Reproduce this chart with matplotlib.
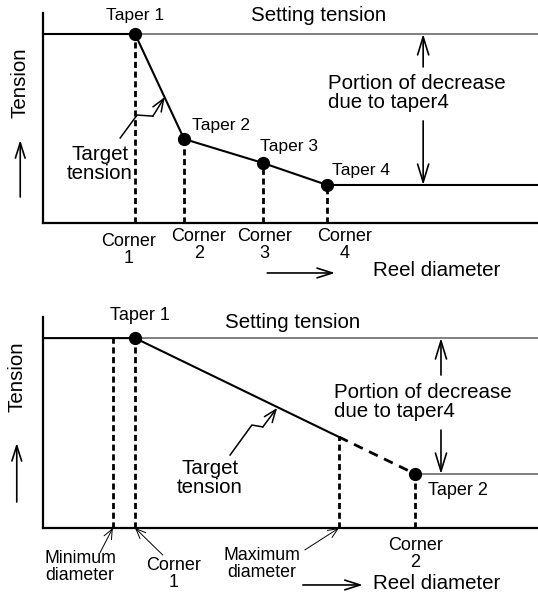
import numpy as np
import matplotlib
matplotlib.use("Agg")
import matplotlib.pyplot as plt

plt.rcParams['font.family'] = ['Liberation Sans', 'DejaVu Sans']

# taper settings, reel diameter and tension both in % of full scale
setting_tension = 90.0

# multi-point taper (top)
corner_diam = [18.6, 28.5, 44.4, 57.4]
taper_tension = [90.0, 40.0, 28.6, 18.1]
taper_names = ["Taper 1", "Taper 2", "Taper 3", "Taper 4"]
corner_names = ["Corner\n1", "Corner\n2", "Corner\n3", "Corner\n4"]

# two-point taper (bottom)
min_diam = 14.1
max_diam = 59.8
corner2_diam = [18.6, 75.2]
taper2_tension = [90.0, 25.6]

BIG = 14.8
SMALL = 12.8
GRAY = "#808080"
DASH = (0, (2.2, 1.3))


def setup(ax):
    ax.set_xlim(0, 100)
    ax.set_ylim(0, 100)
    for s in ["top", "right"]:
        ax.spines[s].set_visible(False)
    for s in ["left", "bottom"]:
        ax.spines[s].set_linewidth(1.6)
    ax.set_xticks([])
    ax.set_yticks([])
    ax.patch.set_alpha(0)


def arrow(ax, start, end, lw=1.2, hl=1.3, hw=0.4):
    ax.annotate("", xy=end, xytext=start, annotation_clip=False,
                arrowprops=dict(arrowstyle="->, head_length=%s, head_width=%s" % (hl, hw),
                                lw=lw, color="black", shrinkA=0, shrinkB=0))


def thin_arrow(ax, start, end):
    ax.annotate("", xy=end, xytext=start, annotation_clip=False,
                arrowprops=dict(arrowstyle="->, head_length=0.7, head_width=0.3",
                                lw=0.7, color="black", shrinkA=0, shrinkB=0))


def bolt(ax, pts):
    pts = np.array(pts)
    ax.plot(pts[:-1, 0], pts[:-1, 1], color="black", lw=1.1, clip_on=False)
    arrow(ax, tuple(pts[-2]), tuple(pts[-1]), lw=1.1, hl=0.9, hw=0.35)


def axis_labels(ax, tx, ty, arr_x, arr_y, rx, ry, rarr):
    ax.text(tx, ty, "Tension", rotation=90, ha="center", va="center",
            fontsize=BIG, clip_on=False)
    arrow(ax, (arr_x, arr_y[0]), (arr_x, arr_y[1]), hl=1.1, hw=0.35)
    ax.text(rx, ry, "Reel diameter", ha="left", va="center", fontsize=BIG, clip_on=False)
    arrow(ax, (rarr[0], rarr[2]), (rarr[1], rarr[2]), hl=1.1, hw=0.35)


fig = plt.figure(figsize=(5.38, 5.94), dpi=100)

# ---------- top : 4 point taper ----------
ax1 = fig.add_axes([43 / 538, 1 - 223 / 594, 495 / 538, 210 / 594])
setup(ax1)

ax1.plot([corner_diam[0], 100], [setting_tension] * 2, color=GRAY, lw=1.4, clip_on=False)
xs = [0] + corner_diam + [100]
ys = [taper_tension[0]] + taper_tension + [taper_tension[-1]]
ax1.plot(xs, ys, color="black", lw=1.5, clip_on=False)
for d, t in zip(corner_diam, taper_tension):
    ax1.plot([d, d], [0, t], color="black", lw=2.0, ls=DASH)
ax1.plot(corner_diam, taper_tension, "o", color="black", ms=8.5, clip_on=False)

ax1.text(corner_diam[0], 98.6, taper_names[0], ha="center", va="center", fontsize=12.5)
ax1.text(55.6, 98.6, "Setting tension", ha="center", va="center", fontsize=BIG)
taper_lbl = [(30.1, 46.2), (43.8, 36.2), (58.4, 24.8)]
for name, (lx, ly) in zip(taper_names[1:], taper_lbl):
    ax1.text(lx, ly, name, ha="left", va="center", fontsize=12.5)

corner_lbl = [(17.2, -12.9), (31.5, -10.5), (44.8, -10.5), (61.0, -10.5)]
for name, (lx, ly) in zip(corner_names, corner_lbl):
    ax1.text(lx, ly, name, ha="center", va="center", fontsize=13,
             linespacing=1.05, clip_on=False)

ax1.text(57.6, 61.9, "Portion of decrease\ndue to taper4", ha="left", va="center",
         fontsize=BIG, linespacing=1.05)
arrow(ax1, (76.8, 74.3), (76.8, setting_tension))
arrow(ax1, (76.8, 48.6), (76.8, taper_tension[-1]))

ax1.text(11.5, 27.9, "Target\ntension", ha="center", va="center", fontsize=BIG,
         linespacing=1.0)
bolt(ax1, [(15.6, 40.5), (19.0, 51.4), (22.2, 50.9), (24.6, 60.0)])

axis_labels(ax1, -4.6, 66.7, -4.6, (12.4, 39.5), 66.7, -22.4, (45.3, 59.0, -23.8))

# ---------- bottom : 2 point taper ----------
ax2 = fig.add_axes([43 / 538, 1 - 528 / 594, 495 / 538, 211 / 594])
setup(ax2)

# tension on the taper line where the maximum diameter is reached
t_max = np.interp(max_diam, corner2_diam, taper2_tension)

ax2.plot([corner2_diam[0], 100], [setting_tension] * 2, color=GRAY, lw=1.4, clip_on=False)
ax2.plot([corner2_diam[1], 100], [taper2_tension[1]] * 2, color=GRAY, lw=1.4, clip_on=False)
ax2.plot([0, corner2_diam[0], max_diam], [taper2_tension[0], taper2_tension[0], t_max],
         color="black", lw=1.5)
ax2.plot([max_diam, corner2_diam[1]], [t_max, taper2_tension[1]], color="black", lw=2.0,
         ls=(0, (3.5, 2.5)))
ax2.plot([min_diam, min_diam], [0, setting_tension], color="black", lw=2.0, ls=DASH)
ax2.plot([corner2_diam[0]] * 2, [0, taper2_tension[0]], color="black", lw=2.0, ls=DASH)
ax2.plot([max_diam, max_diam], [0, t_max], color="black", lw=2.0, ls=DASH)
ax2.plot([corner2_diam[1]] * 2, [0, taper2_tension[1]], color="black", lw=2.0, ls=DASH)
ax2.plot(corner2_diam, taper2_tension, "o", color="black", ms=8.5, clip_on=False)

ax2.text(19.6, 100.9, "Taper 1", ha="center", va="center", fontsize=13, clip_on=False)
ax2.text(50.5, 97.2, "Setting tension", ha="center", va="center", fontsize=BIG)
ax2.text(77.8, 18.0, "Taper 2", ha="left", va="center", fontsize=13)
ax2.text(58.8, 59.7, "Portion of decrease\ndue to taper4", ha="left", va="center",
         fontsize=BIG, linespacing=1.05)
arrow(ax2, (80.4, 72.5), (80.4, setting_tension))
arrow(ax2, (80.4, 46.4), (80.4, taper2_tension[1]))

ax2.text(33.7, 23.9, "Target\ntension", ha="center", va="center", fontsize=BIG,
         linespacing=1.0)
bolt(ax2, [(37.8, 34.6), (42.2, 48.8), (44.4, 47.9), (47.3, 56.9)])

ax2.text(7.5, -18.7, "Minimum\ndiameter", ha="center", va="center", fontsize=SMALL,
         linespacing=1.0, clip_on=False)
thin_arrow(ax2, (11.5, -11.8), (min_diam, 0))
ax2.text(26.3, -21.8, "Corner\n1", ha="center", va="center", fontsize=13,
         linespacing=1.0, clip_on=False)
thin_arrow(ax2, (24.2, -12.8), (corner2_diam[0], 0))
ax2.text(44.2, -17.1, "Maximum\ndiameter", ha="center", va="center", fontsize=SMALL,
         linespacing=1.0, clip_on=False)
thin_arrow(ax2, (52.9, -10.4), (max_diam, 0))
ax2.text(75.2, -12.3, "Corner\n2", ha="center", va="center", fontsize=13,
         linespacing=1.0, clip_on=False)

axis_labels(ax2, -5.3, 71.6, -5.3, (12.3, 40.3), 66.7, -26.1, (52.5, 64.6, -27.0))

fig.savefig("out.png", dpi=100)
